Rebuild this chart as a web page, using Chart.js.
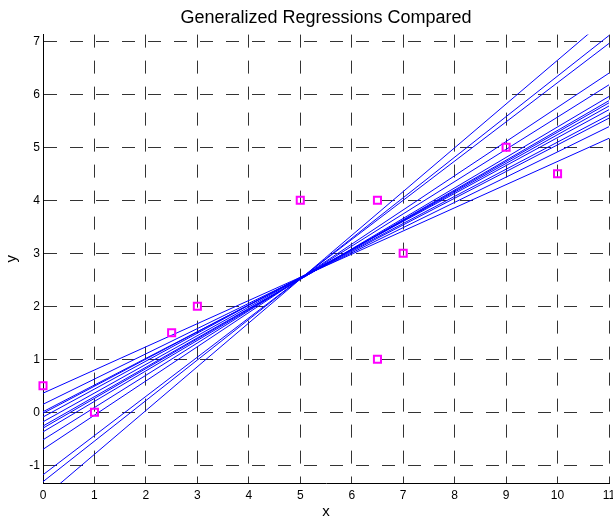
<!DOCTYPE html>
<html>
<head>
<meta charset="utf-8">
<script src="https://cdn.jsdelivr.net/npm/chart.js@4/dist/chart.umd.min.js"></script>
<style>
  html, body { margin: 0; padding: 0; background: #fff; }
  canvas { display: block; }
</style>
</head>
<body>
<canvas id="regChart" width="613" height="521"></canvas>
<script>
// Observed points (magenta squares)
const obsX = [0, 1, 2.5, 3, 5, 6.5, 6.5, 7, 9, 10];
const obsY = [0.5, 0, 1.5, 2, 4, 4, 1, 3, 5, 4.5];

const lineX = [0, 11];
const lineStartY = [0.36, 0.15, 0.01, -0.02, -0.09, -0.18, -0.26, -0.30, -0.37, -0.52, -0.70, -1.18, -1.31, -1.62];
const lineEndY   = [5.17, 5.39, 5.55, 5.61, 5.71, 5.78, 5.84, 5.88, 5.96, 6.18, 6.40, 6.96, 7.11, 7.47];

// Axis ranges
const xMin = 0, xMax = 11;
const yMin = -1.335, yMax = 7.127;

Chart.defaults.font.family = '"Liberation Sans", Arial, sans-serif';
Chart.defaults.color = '#000';

const lineSets = lineStartY.map((y0, i) => ({
    label: 'fit ' + (i + 1),
    data: [{ x: lineX[0], y: y0 }, { x: lineX[1], y: lineEndY[i] }],
    showLine: true,
    borderColor: '#0000ff',
    borderWidth: 1,
    pointRadius: 0,
    fill: false,
    order: 2,
}));

const pointSet = {
    label: 'data',
    data: obsX.map((x, i) => ({ x: x, y: obsY[i] })),
    showLine: false,
    pointStyle: 'rect',
    pointRadius: 5,
    borderColor: '#ff00ff',
    backgroundColor: 'rgba(0,0,0,0)',
    borderWidth: 2,
    clip: false,
    order: 1,
};

const gridStyle = { color: '#333', lineWidth: 1, drawTicks: false };
const borderStyle = { display: true, color: '#000', width: 1, dash: [13, 13] };

// the "11" label hangs off the right edge in the original, so drop the label padding
function noSidePadding(s) {
    s.height = 38;
    s.paddingLeft = 0;
    s.paddingRight = 0;
}

const ctx = document.getElementById('regChart').getContext('2d');
const regChart = new Chart(ctx, {
    type: 'scatter',
    data: { datasets: [pointSet, ...lineSets] },
    options: {
        responsive: false,
        animation: false,
        layout: { autoPadding: false, padding: { left: 0, right: 4, top: 0, bottom: 0 } },
        plugins: {
            legend: { display: false },
            tooltip: { enabled: false },
            title: {
                display: true,
                text: 'Generalized Regressions Compared',
                fullSize: false,
                font: { size: 18, weight: 'normal' },
                padding: { top: 7, bottom: 6 },
            },
        },
        scales: {
            x: {
                type: 'linear',
                min: xMin,
                max: xMax,
                ticks: { stepSize: 1, includeBounds: false, padding: 5, font: { size: 12 }, maxRotation: 0, autoSkip: false },
                grid: gridStyle,
                border: borderStyle,
                title: { display: true, text: 'x', font: { size: 15 }, padding: { top: 0, bottom: 0 } },
                afterFit: noSidePadding,
            },
            y: {
                type: 'linear',
                min: yMin,
                max: yMax,
                ticks: { stepSize: 1, includeBounds: false, padding: 3, font: { size: 12 } },
                grid: gridStyle,
                border: borderStyle,
                title: { display: true, text: 'y', font: { size: 15 }, padding: { top: 3, bottom: 0 } },
                afterFit: (s) => { s.width = 43; },
            },
        },
    },
});
</script>
</body>
</html>
